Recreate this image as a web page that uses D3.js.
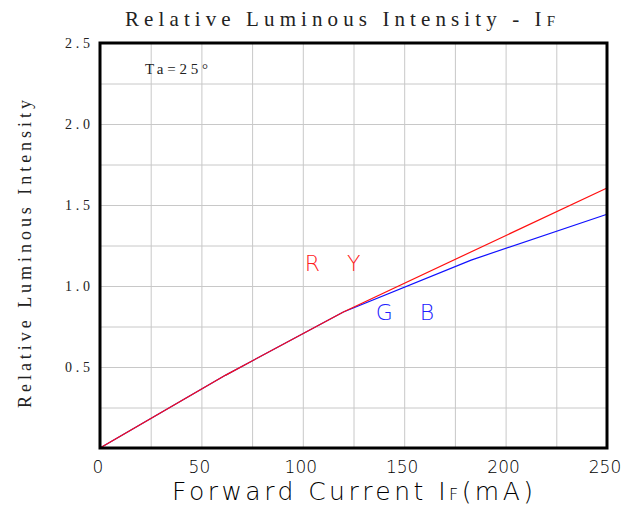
<!DOCTYPE html>
<html>
<head>
<meta charset="utf-8">
<script src="https://cdn.jsdelivr.net/npm/d3@7"></script>
<style>
  body { margin: 0; background: #fff; }
  .grid line { stroke: #c8c8c8; stroke-width: 1; }
  .grid path { display: none; }
  .serif { font-family: "Liberation Serif", "DejaVu Serif", serif; fill: #222; }
  .sans { font-family: "DejaVu Sans", "Liberation Sans", sans-serif; fill: #000; font-weight: 200; }
</style>
</head>
<body>
<svg id="chart"></svg>
<script>
//data
var xTicks = [0, 50, 100, 150, 200, 250];
var yTicks = [0.5, 1.0, 1.5, 2.0, 2.5];
var redCurrent = [0, 62, 120, 250];
var redValue = [0, 0.45, 0.84, 1.605];
var blueCurrent = [0, 62, 120, 183, 250];
var blueValue = [0, 0.45, 0.84, 1.16, 1.443];

//chart parameters
var svg = d3.select('#chart')
    .attr('width', 622)
    .attr('height', 506);

var margin = {top: 43, right: 15, bottom: 58, left: 100},
    width = 622 - margin.left - margin.right,
    height = 506 - margin.top - margin.bottom;

//define scales
var xScale = d3.scaleLinear().domain([0, 250]).range([0, width]),
    yScale = d3.scaleLinear().domain([0, 2.5]).range([height, 0]);

var canvas = svg.append('g')
    .attr('transform', 'translate(' + margin.left + ',' + margin.top + ')');

//gridlines
canvas.append('g')
    .attr('class', 'grid')
    .attr('transform', 'translate(0,' + height + ')')
    .call(d3.axisBottom(xScale).tickValues(d3.range(25, 250, 25)).tickSize(-height).tickFormat(''));

canvas.append('g')
    .attr('class', 'grid')
    .call(d3.axisLeft(yScale).tickValues(d3.range(0.25, 2.5, 0.25)).tickSize(-width).tickFormat(''));

//lines
var line = d3.line()
    .x(d => xScale(d[0]))
    .y(d => yScale(d[1]));

canvas.append('path')
    .datum(blueCurrent.map((c, i) => [c, blueValue[i]]))
    .attr('fill', 'none')
    .attr('stroke', '#1010ff')
    .attr('stroke-width', 1.2)
    .attr('d', line);

canvas.append('path')
    .datum(redCurrent.map((c, i) => [c, redValue[i]]))
    .attr('fill', 'none')
    .attr('stroke', '#ff1010')
    .attr('stroke-width', 1.2)
    .attr('d', line);

//frame
canvas.append('rect')
    .attr('width', width)
    .attr('height', height)
    .attr('fill', 'none')
    .attr('stroke', '#000')
    .attr('stroke-width', 3);

//x tick labels
canvas.selectAll('.xtick').data(xTicks)
    .enter().append('text')
    .attr('class', 'sans')
    .attr('x', d => xScale(d) - 2)
    .attr('y', height + 25)
    .attr('text-anchor', 'middle')
    .style('font-size', '17px')
    .text(d => d);

//y tick labels
canvas.selectAll('.ytick').data(yTicks)
    .enter().append('text')
    .attr('class', 'serif')
    .attr('x', -35)
    .attr('y', d => yScale(d) + 5)
    .attr('textLength', 25)
    .attr('lengthAdjust', 'spacing')
    .style('font-size', '14px')
    .text(d => d3.format('.1f')(d));

//title
var title = svg.append('text')
    .attr('class', 'serif')
    .attr('x', 125)
    .attr('y', 26)
    .attr('textLength', 430)
    .attr('lengthAdjust', 'spacing')
    .style('font-size', '21px')
    .text('Relative Luminous Intensity - I');
title.append('tspan')
    .style('font-size', '15px')
    .text('F');

//y axis title
svg.append('text')
    .attr('class', 'serif')
    .attr('transform', 'translate(31,408) rotate(-90)')
    .attr('textLength', 308)
    .attr('lengthAdjust', 'spacing')
    .style('font-size', '18px')
    .text('Relative Luminous Intensity');

//x axis title
var xt = svg.append('text')
    .attr('class', 'sans')
    .attr('x', 172)
    .attr('y', 500)
    .attr('textLength', 361)
    .attr('lengthAdjust', 'spacing')
    .style('font-size', '25px')
    .text('Forward Current I');
xt.append('tspan').style('font-size', '16px').text('F');
xt.append('tspan').text('(mA)');

//annotation
canvas.append('text')
    .attr('class', 'serif')
    .attr('x', 45)
    .attr('y', 31)
    .attr('textLength', 63)
    .attr('lengthAdjust', 'spacing')
    .style('font-size', '15px')
    .text('Ta=25°');

canvas.append('text')
    .attr('class', 'sans')
    .attr('x', xScale(101))
    .attr('y', yScale(1.09))
    .style('fill', '#ff2020')
    .style('font-size', '22px')
    .style('letter-spacing', '10px')
    .text('R Y');

canvas.append('text')
    .attr('class', 'sans')
    .attr('x', xScale(136))
    .attr('y', yScale(0.79))
    .style('fill', '#2020ff')
    .style('font-size', '22px')
    .style('letter-spacing', '10px')
    .text('G B');
</script>
</body>
</html>
